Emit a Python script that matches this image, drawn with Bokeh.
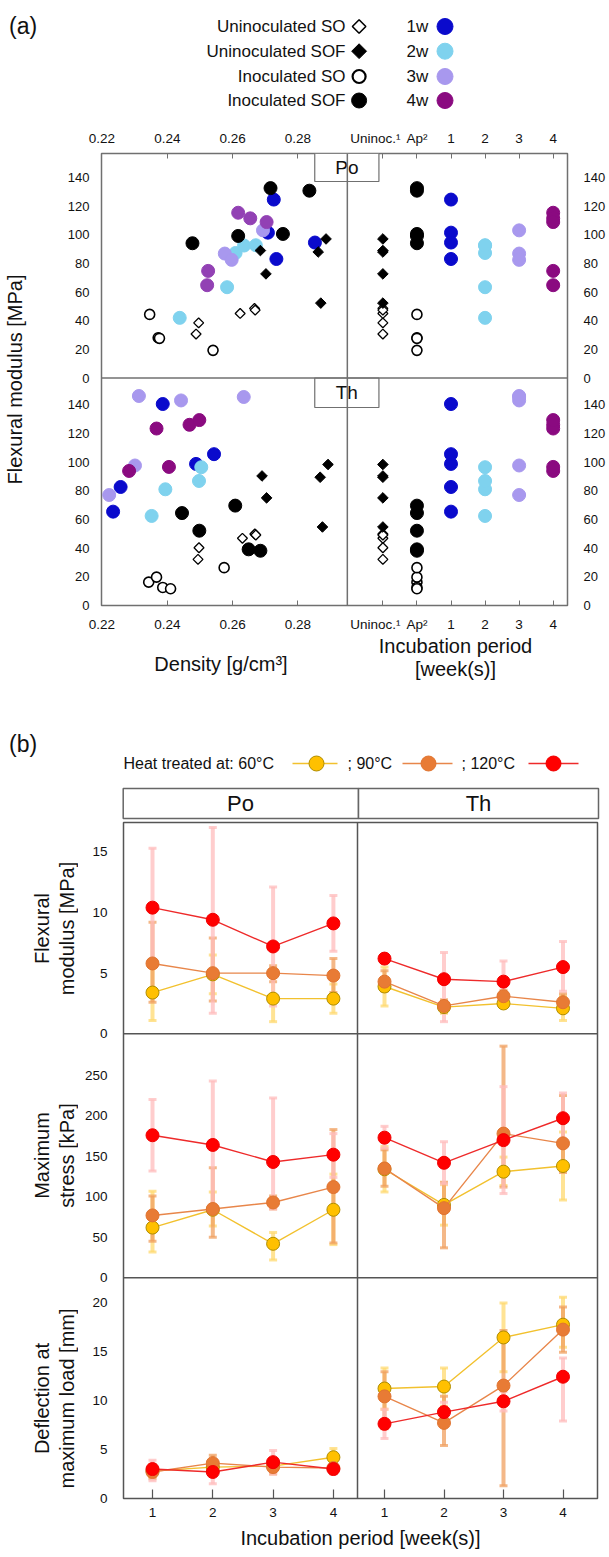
import math
from bokeh.plotting import figure
from bokeh.models import (Range1d, LinearAxis, FixedTicker, Span, Whisker,
                          TeeHead, ColumnDataSource)
from bokeh.layouts import column, row
from bokeh.embed import file_html
from bokeh.resources import INLINE
from bokeh.core.properties import value

FONT = "Liberation Sans"

# ===================== DATA: panel (a) =====================
cat_labels = ["Uninoc.\u00b9", "Ap\u00b2", "1", "2", "3", "4"]
dens_ticks = [0.22, 0.24, 0.26, 0.28]
mod_ticks = [0, 20, 40, 60, 80, 100, 120, 140]
group_names = ["Uninoculated SO", "Uninoculated SOF", "Inoculated SO", "Inoculated SOF"]
week_names = ["1w", "2w", "3w", "4w"]

# Po
po_unSO_dens = [0.2496, 0.2488, 0.2623, 0.2667, 0.2669]
po_unSO_mod = [38.5, 30.7, 45.1, 48.6, 47.4]
po_unSOF_dens = [0.2685, 0.2702, 0.2862, 0.2886, 0.2870]
po_unSOF_mod = [89.0, 72.7, 88.0, 97.1, 52.3]
po_inSO_dens = [0.2346, 0.2372, 0.2376, 0.2540]
po_inSO_mod = [44.4, 28.1, 27.7, 19.3]
po_inSOF_dens = [0.2477, 0.2617, 0.2716, 0.2754, 0.2835]
po_inSOF_mod = [94.1, 99.2, 132.6, 100.6, 130.8]
po_w1_dens = [0.2726, 0.2708, 0.2734, 0.2852]
po_w1_mod = [124.6, 101.5, 83.1, 94.6]
po_w2_dens = [0.2438, 0.2583, 0.2609, 0.2635, 0.2671]
po_w2_mod = [42.0, 63.4, 87.3, 92.5, 92.7]
po_w3_dens = [0.2576, 0.2597, 0.2693]
po_w3_mod = [86.9, 82.5, 103.1]
po_w4_dens = [0.2617, 0.2654, 0.2704, 0.2525, 0.2522]
po_w4_mod = [115.4, 111.5, 108.9, 74.8, 64.8]

# Th
th_unSO_dens = [0.2497, 0.2494, 0.2630, 0.2668, 0.2671]
th_unSO_mod = [40.3, 32.2, 46.9, 49.9, 49.2]
th_unSOF_dens = [0.2690, 0.2704, 0.2868, 0.2892, 0.2875]
th_unSOF_mod = [90.4, 75.1, 89.5, 98.4, 54.8]
th_inSO_dens = [0.2343, 0.2367, 0.2386, 0.2410, 0.2574]
th_inSO_mod = [16.3, 19.8, 12.6, 11.7, 26.4]
th_inSOF_dens = [0.2445, 0.2498, 0.2608, 0.2649, 0.2685]
th_inSOF_mod = [64.5, 52.2, 69.7, 39.2, 38.2]
th_w1_dens = [0.2234, 0.2257, 0.2386, 0.2488, 0.2543]
th_w1_mod = [65.5, 82.7, 140.6, 98.8, 105.6]
th_w2_dens = [0.2352, 0.2394, 0.2497, 0.2504]
th_w2_mod = [62.5, 81.1, 86.9, 96.5]
th_w3_dens = [0.2313, 0.2442, 0.2634, 0.2301, 0.2222]
th_w3_mod = [146.2, 143.1, 145.5, 97.7, 77.1]
th_w4_dens = [0.2367, 0.2468, 0.2498, 0.2283, 0.2405]
th_w4_mod = [123.5, 126.1, 129.4, 93.9, 96.7]

# ===================== DATA: panel (b) =====================
weeks = [1, 2, 3, 4]
flex_ticks = [0, 5, 10, 15]
stress_ticks = [0, 50, 100, 150, 200, 250]
defl_ticks = [0, 5, 10, 15, 20]
temp_labels = ["Heat treated at:  60\u00b0C", "; 90\u00b0C", "; 120\u00b0C"]

po_flex_60 = [3.4, 4.9, 2.9, 2.9]
po_flex_60_lo = [1.1, 3.3, 1.0, 1.7]
po_flex_60_hi = [5.7, 6.5, 4.7, 4.1]
po_flex_90 = [5.8, 5.0, 5.0, 4.8]
po_flex_90_lo = [2.6, 2.7, 4.3, 3.4]
po_flex_90_hi = [9.2, 7.9, 5.6, 6.2]
po_flex_120 = [10.4, 9.4, 7.2, 9.1]
po_flex_120_lo = [5.6, 1.7, 2.3, 6.8]
po_flex_120_hi = [15.3, 17.0, 12.1, 11.4]
th_flex_60 = [3.9, 2.2, 2.5, 2.1]
th_flex_60_lo = [2.3, 1.7, 2.2, 1.1]
th_flex_60_hi = [5.5, 2.7, 2.8, 3.1]
th_flex_90 = [4.3, 2.3, 3.1, 2.6]
th_flex_90_lo = [3.5, 1.8, 2.6, 1.9]
th_flex_90_hi = [5.2, 2.8, 3.6, 3.3]
th_flex_120 = [6.2, 4.5, 4.3, 5.5]
th_flex_120_lo = [5.9, 1.0, 2.6, 3.5]
th_flex_120_hi = [6.5, 6.7, 6.0, 7.6]

po_stress_60 = [62, 84, 42, 84]
po_stress_60_lo = [32, 64, 22, 41]
po_stress_60_hi = [107, 106, 56, 128]
po_stress_90 = [77, 85, 93, 112]
po_stress_90_lo = [45, 50, 85, 43]
po_stress_90_hi = [101, 136, 101, 183]
po_stress_120 = [176, 164, 143, 152]
po_stress_120_lo = [132, 86, 85, 124]
po_stress_120_hi = [220, 243, 222, 178]
th_stress_60 = [134, 90, 131, 138]
th_stress_60_lo = [106, 65, 114, 96]
th_stress_60_hi = [162, 115, 149, 180]
th_stress_90 = [135, 86, 178, 166]
th_stress_90_lo = [113, 37, 112, 130]
th_stress_90_hi = [158, 118, 286, 225]
th_stress_120 = [173, 142, 170, 197]
th_stress_120_lo = [160, 116, 104, 166]
th_stress_120_hi = [187, 168, 236, 228]

po_defl_60 = [2.8, 3.2, 3.3, 4.2]
po_defl_60_lo = [2.2, 2.6, 2.6, 3.4]
po_defl_60_hi = [3.4, 3.8, 4.0, 5.1]
po_defl_90 = [2.7, 3.6, 3.2, 3.1]
po_defl_90_lo = [2.0, 2.8, 2.5, 2.6]
po_defl_90_hi = [3.4, 4.4, 3.9, 3.6]
po_defl_120 = [3.0, 2.7, 3.7, 3.0]
po_defl_120_lo = [1.8, 1.5, 2.5, 2.5]
po_defl_120_hi = [3.9, 3.9, 4.9, 3.5]
th_defl_60 = [11.2, 11.4, 16.4, 17.7]
th_defl_60_lo = [9.1, 9.4, 12.9, 15.4]
th_defl_60_hi = [13.3, 13.3, 19.9, 20.5]
th_defl_90 = [10.4, 7.7, 11.5, 17.2]
th_defl_90_lo = [7.1, 5.4, 1.3, 14.9]
th_defl_90_hi = [12.9, 10.4, 17.1, 19.5]
th_defl_120 = [7.6, 8.8, 9.9, 12.4]
th_defl_120_lo = [6.1, 7.8, 8.9, 7.9]
th_defl_120_hi = [9.1, 9.8, 10.9, 14.3]

# ===================== helpers =====================
PAGE_W = 608


def lin_range(px0, v0, ppu, total):
    s = v0 - px0 / ppu
    return Range1d(s, s + total / ppu)


def lin_px(v, px0, v0, ppu):
    return round(px0 + (v - v0) * ppu, 3)


def fixed_axis(ticks, labels, **kw):
    ax = LinearAxis(ticker=FixedTicker(ticks=ticks, minor_ticks=[]),
                    major_label_overrides={t: l for t, l in zip(ticks, labels)},
                    axis_line_color=None, minor_tick_line_color=None,
                    major_label_text_font=FONT, major_label_text_color="#111111",
                    axis_label_text_font=FONT, axis_label_text_font_style="normal",
                    axis_label_text_color="#111111")
    for k, v in kw.items():
        setattr(ax, k, v)
    return ax


def base_fig(w, h, xr, yr, l=0, r=0, t=0, b=0, outline=None, ow=1.5):
    return figure(width=w, height=h, x_range=xr, y_range=yr, x_axis_type=None,
                  y_axis_type=None, output_backend="svg", toolbar_location=None,
                  min_border_left=l, min_border_right=r, min_border_top=t,
                  min_border_bottom=b, outline_line_color=outline,
                  outline_line_width=ow, frame_align=False)


def txt(p, x, y, t, size, align="left", angle=0, **kw):
    p.text(x=x, y=y, text=t, text_font=value(FONT), text_font_size=size,
           text_align=align, text_baseline="middle", angle=angle,
           text_color="#111111", **kw)

# ===================== (a) legend =====================
C_W1, C_W2, C_W3, C_W4 = "#0a0acc", "#7fd2ee", "#a898ee", "#8a0a80"
C_W4_PO = "#9241b4"
pla = base_fig(PAGE_W, 120, Range1d(0, PAGE_W), Range1d(120, 0))
txt(pla, [8.6], [25], ["(a)"], "23px")
leg_y = [26, 50.7, 76, 100]
txt(pla, [345] * 4, leg_y, group_names, "17px", align="right")
pla.scatter(x=[358.6], y=[leg_y[0]], marker="square", angle=math.pi / 4, size=9.5,
            fill_color="white", line_color="black", line_width=1.6)
pla.scatter(x=[358.6], y=[leg_y[1]], marker="square", angle=math.pi / 4, size=10.5,
            fill_color="black", line_color="black")
pla.scatter(x=[358.6], y=[leg_y[2]], marker="circle", size=13,
            fill_color="white", line_color="black", line_width=2.2)
pla.scatter(x=[358.6], y=[leg_y[3]], marker="circle", size=15,
            fill_color="black", line_color="black")
txt(pla, [406] * 4, leg_y, week_names, "17px")
pla.scatter(x=[444.5] * 4, y=leg_y, marker="circle", size=16,
            fill_color=[C_W1, C_W2, C_W3, C_W4], line_color=[C_W1, C_W2, C_W3, C_W4])

# ===================== (a) main =====================
A_W, A_H = 472, 452
A_DENS = (0.5, 0.22, 3308.0)
A_CAT = (285.0, 0, 34.5)
A_PO = (227.5, 0, 1.432)
A_TH = (0.0, 0, 1.433)
GRAY_A = "#707070"

pa = base_fig(PAGE_W, 515, Range1d(0, A_W), Range1d(0, A_H), l=96, r=PAGE_W - 568,
              t=33, b=30, outline=GRAY_A)
pa.extra_x_ranges = {"dens": lin_range(*A_DENS, A_W), "cat": lin_range(*A_CAT, A_W)}
pa.extra_y_ranges = {"po": lin_range(*A_PO, A_H), "th": lin_range(*A_TH, A_H)}

NB = "\u00a0"
xt = [lin_px(d, *A_DENS) for d in dens_ticks] + [lin_px(i, *A_CAT) for i in range(6)]
xl = ([f"{d:.2f}" for d in dens_ticks] + [cat_labels[0] + NB * 4] + cat_labels[1:])
yt = [lin_px(v, *A_TH) for v in mod_ticks] + [lin_px(v, *A_PO) for v in mod_ticks]
yl = [str(v) for v in mod_ticks] * 2

for loc, stand in (("above", 8), ("below", 11)):
    pa.add_layout(fixed_axis(xt, xl, major_tick_in=5, major_tick_out=0,
                             major_tick_line_color=GRAY_A,
                             major_label_text_font_size="13.5px",
                             major_label_standoff=stand), loc)
pa.add_layout(fixed_axis(yt, yl, major_tick_line_color=None,
                         major_label_text_font_size="13px", major_label_standoff=6,
                         axis_label="Flexural modulus [MPa]",
                         axis_label_text_font_size="20px",
                         axis_label_standoff=39), "left")
pa.add_layout(fixed_axis(yt, yl, major_tick_line_color=None,
                         major_label_text_font_size="13px",
                         major_label_standoff=10), "right")

pa.add_layout(Span(location=249, dimension="height", line_color=GRAY_A, line_width=1.5))
pa.add_layout(Span(location=227.5, dimension="width", line_color=GRAY_A, line_width=1.5))

STY = {
    "unSO": dict(marker="square", angle=math.pi / 4, size=7, fill_color="white",
                 line_color="black", line_width=1.3),
    "unSOF": dict(marker="square", angle=math.pi / 4, size=7.5, fill_color="black",
                  line_color="black"),
    "inSO": dict(marker="circle", size=10, fill_color="white", line_color="black",
                 line_width=1.6),
    "inSOF": dict(marker="circle", size=13, fill_color="black", line_color="black"),
}
for k, c in (("w1", C_W1), ("w2", C_W2), ("w3", C_W3), ("w4", C_W4)):
    STY[k] = dict(marker="circle", size=13, fill_color=c, line_color=c)
CAT_OF = {"unSO": 0, "unSOF": 0, "inSO": 1, "inSOF": 1, "w1": 2, "w2": 3, "w3": 4, "w4": 5}

groups_po = {"w1": (po_w1_dens, po_w1_mod), "w2": (po_w2_dens, po_w2_mod),
             "w3": (po_w3_dens, po_w3_mod), "w4": (po_w4_dens, po_w4_mod),
             "unSO": (po_unSO_dens, po_unSO_mod), "unSOF": (po_unSOF_dens, po_unSOF_mod),
             "inSO": (po_inSO_dens, po_inSO_mod), "inSOF": (po_inSOF_dens, po_inSOF_mod)}
groups_th = {"w1": (th_w1_dens, th_w1_mod), "w2": (th_w2_dens, th_w2_mod),
             "w3": (th_w3_dens, th_w3_mod), "w4": (th_w4_dens, th_w4_mod),
             "unSO": (th_unSO_dens, th_unSO_mod), "unSOF": (th_unSOF_dens, th_unSOF_mod),
             "inSO": (th_inSO_dens, th_inSO_mod), "inSOF": (th_inSOF_dens, th_inSOF_mod)}

for yname, groups in (("po", groups_po), ("th", groups_th)):
    for key, (dens, mod) in groups.items():
        sty = dict(STY[key])
        if yname == "po" and key == "w4":
            left_sty = dict(sty, fill_color=C_W4_PO, line_color=C_W4_PO)
        else:
            left_sty = sty
        pa.scatter(x=dens, y=mod, x_range_name="dens", y_range_name=yname, **left_sty)
        pa.scatter(x=[CAT_OF[key]] * len(mod), y=mod, x_range_name="cat",
                   y_range_name=yname, **sty)

# panel name boxes
pa.quad(left=[216, 216], right=[281, 281], bottom=[424, 198], top=[452, 227.5],
        fill_color="white", line_color=GRAY_A, line_width=1.2)
txt(pa, [248.5, 248.5], [438, 212.7], ["Po", "Th"], "19px", align="center")

# x titles of (a)
pxt = base_fig(PAGE_W, 60, pa.x_range, Range1d(695, 635), l=96, r=PAGE_W - 568)
txt(pxt, [124.5], [663], ["Density [g/cm\u00b3]"], "20px", align="center")
txt(pxt, [359, 359], [645, 668], ["Incubation period", "[week(s)]"], "20px", align="center")

# ===================== (b) legend + headers =====================
Y60 = dict(line="#f2c12e", fill="#ffc000", edge="#b08d00", err="#ffd970", err_alpha=0.75)
O90 = dict(line="#e8864a", fill="#e87b35", edge="#e07430", err="#f0a060", err_alpha=0.75)
R120 = dict(line="#ee2a2a", fill="#ff0000", edge="#f00000", err="#ffbcbc", err_alpha=0.75)

plb = base_fig(PAGE_W, 125, Range1d(0, PAGE_W), Range1d(820, 695))
txt(plb, [8.6], [743], ["(b)"], "23px")
LY = 763
txt(plb, [123, 347, 461], [LY] * 3, temp_labels, "16px")
for (x0, x1, xc), s in zip(((292, 337, 316), (402, 452, 428), (528, 578, 553)),
                           (Y60, O90, R120)):
    plb.line(x=[x0, x1], y=[LY, LY], line_color=s["line"], line_width=1.6)
    plb.scatter(x=[xc], y=[LY], marker="circle", size=15, fill_color=s["fill"],
                line_color=s["edge"], line_width=1)
plb.quad(left=[122.7, 358], right=[358, 598], top=[788, 788], bottom=[818, 818],
         fill_color="white", line_color="#666666", line_width=1.5)
txt(plb, [240, 478], [803, 803], ["Po", "Th"], "22px", align="center")

# ===================== (b) main =====================
B_W, B_H = 474, 676
B_PO = (29.0, 1, 60.3)
B_TH = (261.0, 1, 59.5)
B_FLEX = (464.7, 0, 12.13)
B_STRESS = (220.7, 0, 0.81)
B_DEFL = (0.0, 0, 9.82)
GRAY_B = "#555555"
YT_W = 78

pb = base_fig(PAGE_W - YT_W, 736, Range1d(0, B_W), Range1d(0, B_H), l=123 - YT_W,
              r=PAGE_W - 597, t=2, b=58, outline=GRAY_B)
pb.extra_x_ranges = {"po": lin_range(*B_PO, B_W), "th": lin_range(*B_TH, B_W)}
pb.extra_y_ranges = {"flex": lin_range(*B_FLEX, B_H),
                     "stress": lin_range(*B_STRESS, B_H),
                     "defl": lin_range(*B_DEFL, B_H)}

bxt = [lin_px(w, *B_PO) for w in weeks] + [lin_px(w, *B_TH) for w in weeks]
bxl = [str(w) for w in weeks] * 2
byt = ([lin_px(v, *B_DEFL) for v in defl_ticks] + [lin_px(v, *B_STRESS) for v in stress_ticks]
       + [lin_px(v, *B_FLEX) for v in flex_ticks])
byl = [str(v) for v in defl_ticks] + [str(v) for v in stress_ticks] + [str(v) for v in flex_ticks]

pb.add_layout(fixed_axis(bxt, bxl, major_tick_in=9, major_tick_out=0,
                         major_tick_line_color=GRAY_B, major_tick_line_width=1.2,
                         major_label_text_font_size="13.5px", major_label_standoff=9,
                         axis_label="Incubation period [week(s)]",
                         axis_label_text_font_size="20px", axis_label_standoff=7), "below")
pb.add_layout(fixed_axis(byt, byl, major_tick_line_color=None,
                         major_label_text_font_size="13.5px",
                         major_label_standoff=10), "left")

pb.add_layout(Span(location=234, dimension="height", line_color=GRAY_B, line_width=1.5))
pb.add_layout(Span(location=220.7, dimension="width", line_color=GRAY_B, line_width=1.5))
pb.add_layout(Span(location=464.7, dimension="width", line_color=GRAY_B, line_width=1.5))


def series(xname, yname, vals, lo, hi, s):
    src = ColumnDataSource(dict(x=weeks, y=vals, lo=lo, hi=hi))

    def head():
        return TeeHead(size=8, line_color=s["err"], line_width=3, line_alpha=s["err_alpha"])
    pb.add_layout(Whisker(source=src, base="x", lower="lo", upper="hi", dimension="height",
                          x_range_name=xname, y_range_name=yname, level="underlay",
                          line_color=s["err"], line_width=4, line_alpha=s["err_alpha"],
                          upper_head=head(), lower_head=head()))
    return src


def series_marks(src, xname, yname, s):
    pb.line(x="x", y="y", source=src, x_range_name=xname, y_range_name=yname,
            line_color=s["line"], line_width=1.4)
    pb.scatter(x="x", y="y", source=src, x_range_name=xname, y_range_name=yname,
               marker="circle", size=13, fill_color=s["fill"], line_color=s["edge"],
               line_width=1)


panels = [
    ("po", "flex", [(po_flex_60, po_flex_60_lo, po_flex_60_hi),
                    (po_flex_90, po_flex_90_lo, po_flex_90_hi),
                    (po_flex_120, po_flex_120_lo, po_flex_120_hi)]),
    ("th", "flex", [(th_flex_60, th_flex_60_lo, th_flex_60_hi),
                    (th_flex_90, th_flex_90_lo, th_flex_90_hi),
                    (th_flex_120, th_flex_120_lo, th_flex_120_hi)]),
    ("po", "stress", [(po_stress_60, po_stress_60_lo, po_stress_60_hi),
                      (po_stress_90, po_stress_90_lo, po_stress_90_hi),
                      (po_stress_120, po_stress_120_lo, po_stress_120_hi)]),
    ("th", "stress", [(th_stress_60, th_stress_60_lo, th_stress_60_hi),
                      (th_stress_90, th_stress_90_lo, th_stress_90_hi),
                      (th_stress_120, th_stress_120_lo, th_stress_120_hi)]),
    ("po", "defl", [(po_defl_60, po_defl_60_lo, po_defl_60_hi),
                    (po_defl_90, po_defl_90_lo, po_defl_90_hi),
                    (po_defl_120, po_defl_120_lo, po_defl_120_hi)]),
    ("th", "defl", [(th_defl_60, th_defl_60_lo, th_defl_60_hi),
                    (th_defl_90, th_defl_90_lo, th_defl_90_hi),
                    (th_defl_120, th_defl_120_lo, th_defl_120_hi)]),
]
for xname, yname, ser in panels:
    srcs = [series(xname, yname, v, lo, hi, s) for (v, lo, hi), s in zip(ser, (Y60, O90, R120))]
    for src, s in zip(srcs, (Y60, O90, R120)):
        series_marks(src, xname, yname, s)

# row titles of (b)
pyt = base_fig(YT_W, 736, Range1d(0, YT_W), pb.y_range, t=2, b=58)
row_titles = [("Flexural", "modulus [MPa]", 570), ("Maximum", "stress [kPa]", 343),
              ("Deflection at", "maximum load [mm]", 100)]
for t1, t2, yc in row_titles:
    txt(pyt, [41, 66], [yc, yc], [t1, t2], "20px", align="center", angle=math.pi / 2)

layout = column(pla, pa, pxt, plb, row(pyt, pb))
open("out.html", "w").write(file_html(layout, INLINE))
